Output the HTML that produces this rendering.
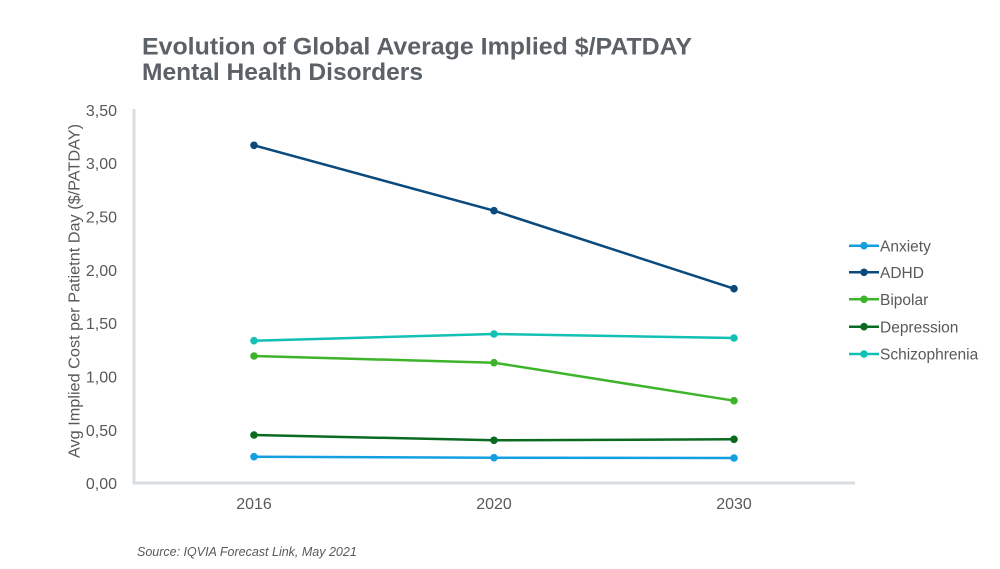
<!DOCTYPE html>
<html>
<head>
<meta charset="utf-8">
<style>
  html,body{margin:0;padding:0;background:#fff;}
  svg{display:block;}
  text{font-family:"Liberation Sans", Arial, sans-serif;}
</style>
</head>
<body>
<svg width="1000" height="569" viewBox="0 0 1000 569" xmlns="http://www.w3.org/2000/svg">
  <rect width="1000" height="569" fill="#fff"/>
  <!-- Title -->
  <text x="142" y="54.5" font-size="24" font-weight="bold" fill="#5b6166" textLength="550" lengthAdjust="spacingAndGlyphs">Evolution of Global Average Implied $/PATDAY</text>
  <text x="142" y="80" font-size="24" font-weight="bold" fill="#5b6166" textLength="281" lengthAdjust="spacingAndGlyphs">Mental Health Disorders</text>

  <!-- Axes -->
  <line x1="134" y1="109" x2="134" y2="484" stroke="#d9dee2" stroke-width="3"/>
  <line x1="133" y1="483" x2="855" y2="483" stroke="#d9dee2" stroke-width="3"/>

  <!-- Y tick labels -->
  <g font-size="16" fill="#595959" text-anchor="end">
    <text x="117" y="116">3,50</text>
    <text x="117" y="169">3,00</text>
    <text x="117" y="222.5">2,50</text>
    <text x="117" y="276">2,00</text>
    <text x="117" y="329">1,50</text>
    <text x="117" y="382.5">1,00</text>
    <text x="117" y="436">0,50</text>
    <text x="117" y="489">0,00</text>
  </g>

  <!-- Y axis title -->
  <text transform="translate(79.5,291) rotate(-90)" font-size="16" fill="#595959" text-anchor="middle" textLength="334" lengthAdjust="spacingAndGlyphs">Avg Implied Cost per Patietnt Day ($/PATDAY)</text>

  <!-- X labels -->
  <g font-size="16" fill="#595959" text-anchor="middle">
    <text x="254" y="509">2016</text>
    <text x="494" y="509">2020</text>
    <text x="734" y="509">2030</text>
  </g>

  <!-- Series -->
  <g stroke-width="2.5" fill="none">
    <polyline points="254,456.7 494,457.7 734,458" stroke="#14a0e0"/>
    <polyline points="254,145.3 494,210.7 734,288.7" stroke="#0b4a7c"/>
    <polyline points="254,356 494,362.7 734,400.7" stroke="#3db42a"/>
    <polyline points="254,435 494,440.3 734,439.3" stroke="#0a6b20"/>
    <polyline points="254,340.7 494,334 734,338" stroke="#12c0b4"/>
  </g>
  <g>
    <circle cx="254" cy="456.7" r="3.8" fill="#14a0e0"/>
    <circle cx="494" cy="457.7" r="3.8" fill="#14a0e0"/>
    <circle cx="734" cy="458" r="3.8" fill="#14a0e0"/>
    <circle cx="254" cy="145.3" r="3.8" fill="#0b4a7c"/>
    <circle cx="494" cy="210.7" r="3.8" fill="#0b4a7c"/>
    <circle cx="734" cy="288.7" r="3.8" fill="#0b4a7c"/>
    <circle cx="254" cy="356" r="3.8" fill="#3db42a"/>
    <circle cx="494" cy="362.7" r="3.8" fill="#3db42a"/>
    <circle cx="734" cy="400.7" r="3.8" fill="#3db42a"/>
    <circle cx="254" cy="435" r="3.8" fill="#0a6b20"/>
    <circle cx="494" cy="440.3" r="3.8" fill="#0a6b20"/>
    <circle cx="734" cy="439.3" r="3.8" fill="#0a6b20"/>
    <circle cx="254" cy="340.7" r="3.8" fill="#12c0b4"/>
    <circle cx="494" cy="334" r="3.8" fill="#12c0b4"/>
    <circle cx="734" cy="338" r="3.8" fill="#12c0b4"/>
  </g>

  <!-- Legend -->
  <g stroke-width="2.5">
    <line x1="849" y1="245.7" x2="879" y2="245.7" stroke="#14a0e0"/>
    <line x1="849" y1="272.3" x2="879" y2="272.3" stroke="#0b4a7c"/>
    <line x1="849" y1="299.3" x2="879" y2="299.3" stroke="#3db42a"/>
    <line x1="849" y1="326.7" x2="879" y2="326.7" stroke="#0a6b20"/>
    <line x1="849" y1="354" x2="879" y2="354" stroke="#12c0b4"/>
  </g>
  <circle cx="864" cy="245.7" r="3.8" fill="#14a0e0"/>
  <circle cx="864" cy="272.3" r="3.8" fill="#0b4a7c"/>
  <circle cx="864" cy="299.3" r="3.8" fill="#3db42a"/>
  <circle cx="864" cy="326.7" r="3.8" fill="#0a6b20"/>
  <circle cx="864" cy="354" r="3.8" fill="#12c0b4"/>
  <g font-size="15.5" fill="#595959">
    <text x="880" y="251.3">Anxiety</text>
    <text x="880" y="277.9">ADHD</text>
    <text x="880" y="304.9">Bipolar</text>
    <text x="880" y="332.3">Depression</text>
    <text x="880" y="359.6">Schizophrenia</text>
  </g>

  <!-- Source -->
  <text x="137" y="556" font-size="12.5" font-style="italic" fill="#595959">Source: IQVIA Forecast Link, May 2021</text>
</svg>
</body>
</html>
